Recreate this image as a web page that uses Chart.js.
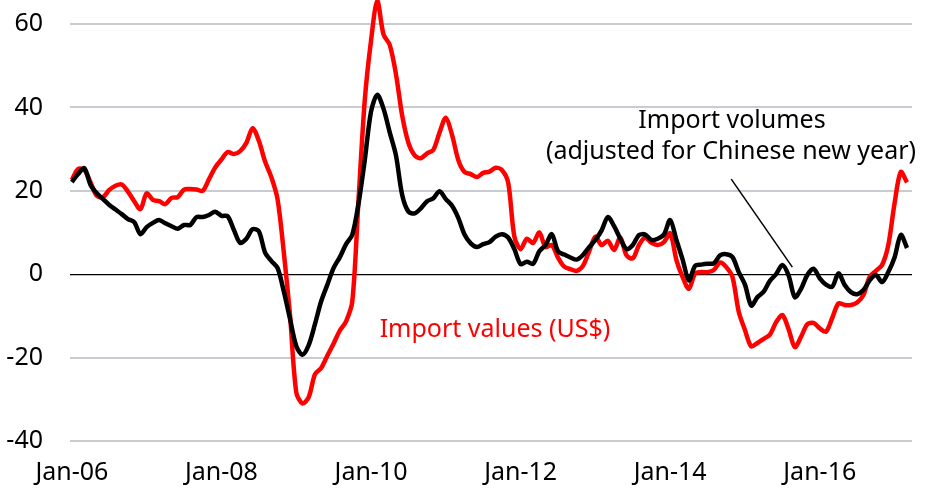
<!DOCTYPE html>
<html>
<head>
<meta charset="utf-8">
<script src="https://cdn.jsdelivr.net/npm/chart.js@4"></script>
<style>
  html, body { margin: 0; padding: 0; background: #fff; }
  #wrap { width: 928px; height: 488px; position: relative; }
</style>
</head>
<body>
<div id="wrap"><canvas id="chart"></canvas></div>
<script>
// monthly, Jan-06 .. Mar-17 (index 0 = Jan-06)
const tickMonths = [0, 24, 48, 72, 96, 120];
const tickLabels = ['Jan-06', 'Jan-08', 'Jan-10', 'Jan-12', 'Jan-14', 'Jan-16'];
const yTicks = [-40, -20, 0, 20, 40, 60];

const importVolumes = [
  22.1, 24.0, 25.4, 21.4, 19.4, 18.0, 16.6, 15.5, 14.4, 13.2,
  12.5, 9.6, 11.3, 12.3, 13.0, 12.2, 11.5, 10.9, 11.8, 11.8,
  13.7, 13.7, 14.2, 15.0, 14.0, 13.9, 10.6, 7.5, 8.5, 10.8,
  10.3, 5.2, 3.2, 1.5, -4.1, -10.7, -17.2, -19.3, -17.0, -12.0,
  -6.5, -2.5, 1.5, 4.1, 7.2, 9.5, 17.0, 27.4, 39.0, 43.0,
  39.7, 34.0, 28.5, 19.0, 15.0, 14.6, 15.8, 17.5, 18.2, 19.9,
  18.0, 16.4, 13.5, 9.5, 7.4, 6.5, 7.2, 7.7, 9.0, 9.6,
  8.8, 6.0, 2.4, 3.0, 2.5, 5.5, 7.0, 9.6, 5.5, 4.7,
  4.0, 3.5, 4.6, 6.5, 8.2, 10.5, 13.7, 11.5, 8.5, 6.0,
  7.0, 9.4, 9.5, 8.2, 8.5, 9.5, 13.0, 8.2, 3.5, -1.5,
  2.0, 2.3, 2.5, 2.6, 4.5, 4.8, 4.1, 0.5, -2.5, -7.5,
  -5.5, -4.2, -1.6, 0.0, 2.2, -0.3, -5.5, -3.5, -0.2, 1.3,
  -1.0, -2.5, -3.0, 0.2, -2.6, -4.3, -4.8, -3.8, -1.5, -0.2,
  -1.9, 0.5, 4.0, 9.4, 6.3
];

const importValues = [
  22.6, 25.2, 25.0, 22.0, 18.8, 18.5, 20.2, 21.2, 21.5, 19.8,
  17.5, 15.6, 19.4, 17.8, 17.5, 16.8, 18.3, 18.5, 20.3, 20.4,
  20.3, 20.0, 22.8, 25.6, 27.5, 29.3, 28.8, 29.5, 31.5, 35.0,
  32.0, 27.0, 23.3, 18.0, 5.3, -9.8, -28.3, -31.0, -29.5, -24.0,
  -22.5, -19.5, -16.6, -13.5, -11.3, -6.5, 18.0, 41.8, 56.0, 65.5,
  57.5, 55.0, 48.0, 38.0, 31.5, 28.5, 27.8, 29.0, 29.8, 34.0,
  37.5, 33.4, 27.4, 24.5, 24.0, 23.3, 24.3, 24.6, 25.5, 25.0,
  22.0, 9.0, 6.0, 8.5, 7.5, 10.0, 6.5, 7.0, 4.0, 1.8,
  1.2, 0.8, 2.0, 5.5, 9.0, 7.0, 8.0, 5.8, 8.8, 4.5,
  3.8, 7.0, 8.8, 7.5, 7.0, 7.7, 9.8, 3.4, -0.7, -3.5,
  0.2, 0.5, 0.5, 1.0, 2.8, 1.7, -0.7, -9.0, -13.4, -17.3,
  -16.5, -15.5, -14.5, -11.5, -9.8, -13.2, -17.5, -15.0, -12.0, -11.7,
  -13.0, -13.8, -10.5, -7.0, -7.4, -7.4, -6.8, -5.0, -0.7, 0.8,
  2.2, 7.0, 17.0, 24.5, 22.0
];

const toPoints = arr => arr.map((v, i) => ({ x: i, y: v }));

Chart.defaults.font.family = "'Noto Sans', sans-serif";
Chart.defaults.font.size = 25;
Chart.defaults.color = '#000';

// text labels and the pointer line
const notes = {
  id: 'notes',
  afterDatasetsDraw(chart) {
    const c = chart.ctx;
    const xs = chart.scales.x, ys = chart.scales.y;
    c.save();
    c.font = "25px 'Noto Sans', sans-serif";
    c.textAlign = 'center';
    c.textBaseline = 'alphabetic';
    c.fillStyle = '#000';
    c.fillText('Import volumes', 732, 128);
    c.fillText('(adjusted for Chinese new year)', 731, 159);
    c.fillStyle = '#ff0000';
    c.fillText('Import values (US$)', 495, 337);

    c.strokeStyle = '#000';
    c.lineWidth = 1.5;
    c.beginPath();
    c.moveTo(xs.getPixelForValue(105.8), ys.getPixelForValue(22.8));
    c.lineTo(xs.getPixelForValue(115.6), ys.getPixelForValue(1.7));
    c.stroke();
    c.restore();
  }
};

new Chart(document.getElementById('chart'), {
  type: 'line',
  data: {
    datasets: [
      {
        label: 'Import volumes',
        data: toPoints(importVolumes),
        borderColor: '#000000',
        borderWidth: 4.5,
        pointRadius: 0,
        tension: 0.3,
        order: 0
      },
      {
        label: 'Import values (US$)',
        data: toPoints(importValues),
        borderColor: '#ff0000',
        borderWidth: 4.5,
        pointRadius: 0,
        tension: 0.3,
        clip: 4,
        order: 1
      }
    ]
  },
  options: {
    responsive: true,
    maintainAspectRatio: false,
    animation: false,
    layout: { padding: { top: 0, right: 16, bottom: 0, left: 0 } },
    plugins: {
      legend: { display: false },
      tooltip: { enabled: false }
    },
    scales: {
      x: {
        type: 'linear',
        min: -0.3,
        max: 134.8,
        grid: { display: false, drawTicks: false },
        border: { display: false },
        afterBuildTicks: axis => { axis.ticks = tickMonths.map(v => ({ value: v })); },
        afterFit: axis => { axis.height = 47; axis.paddingLeft = 0; axis.paddingRight = 0; },
        ticks: {
          autoSkip: false,
          maxRotation: 0,
          padding: 17,
          callback: v => tickLabels[tickMonths.indexOf(v)]
        }
      },
      y: {
        min: -40,
        max: 65.75,
        afterBuildTicks: axis => { axis.ticks = yTicks.map(v => ({ value: v })); },
        afterFit: axis => { axis.width = 70; axis.paddingTop = 0; axis.paddingBottom = 0; },
        border: { display: false },
        grid: {
          drawTicks: false,
          color: ctx => ctx.tick && ctx.tick.value === 0 ? '#000000' : '#c8ccd0',
          lineWidth: ctx => ctx.tick && ctx.tick.value === 0 ? 1.3 : 2
        },
        ticks: {
          padding: 27
        }
      }
    }
  },
  plugins: [notes]
});
</script>
</body>
</html>
